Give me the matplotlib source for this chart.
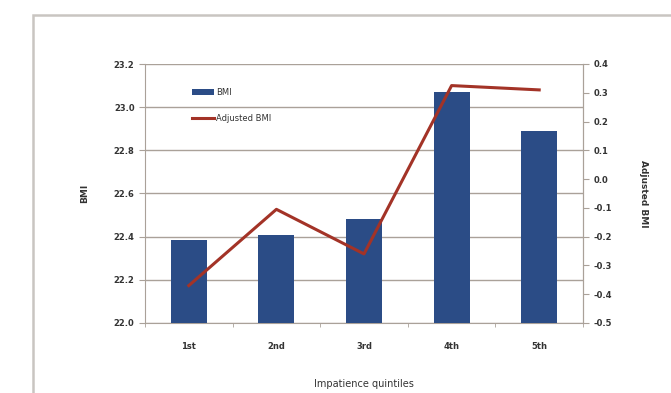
import matplotlib
matplotlib.use('Agg')
from matplotlib import pyplot as plt
from matplotlib.patches import Rectangle
import numpy as np

quintiles = ['1st', '2nd', '3rd', '4th', '5th']
bmi = [22.385, 22.41, 22.48, 23.07, 22.89]
adj_bmi = [-0.37, -0.105, -0.26, 0.325, 0.31]
left_ticks = [22.0, 22.2, 22.4, 22.6, 22.8, 23.0, 23.2]
right_ticks = [-0.5, -0.4, -0.3, -0.2, -0.1, 0.0, 0.1, 0.2, 0.3, 0.4]

bar_col = '#2b4c86'
line_col = '#a33327'
grid_col = '#aaa199'
txt_col = '#333333'

fig = plt.figure(figsize=(6.71, 3.93), dpi=100)
fig.patches.append(Rectangle((33/671, -0.1), 1.2, 1.1 - 15/393, transform=fig.transFigure,
                             fill=False, edgecolor='#c9c5c1', linewidth=1.8))

ax = fig.add_axes([145/671, 1 - 323/393, (583-145)/671, (323-64)/393])
x = np.arange(len(quintiles))
ax.bar(x, bmi, width=0.41, color=bar_col, label='BMI', zorder=3)
ax.set_ylim(22.0, 23.2)
ax.set_xlim(-0.5, 4.5)
ax.set_yticks(left_ticks)
ax.set_yticklabels(['%.1f' % t for t in left_ticks])
ax.set_xticks(x)
ax.set_xticklabels(quintiles)
ax.set_xticks(np.arange(-0.5, 5.0, 1.0), minor=True)
ax.grid(axis='y', color=grid_col, linewidth=1.0, zorder=0)
ax.spines['top'].set_visible(False)
for s in ['left', 'bottom', 'right']:
    ax.spines[s].set_color(grid_col)
ax.tick_params(axis='y', colors=grid_col, labelcolor=txt_col, labelsize=6, length=4)
ax.tick_params(axis='x', which='major', length=0, labelcolor=txt_col, labelsize=6, pad=14)
ax.tick_params(axis='x', which='minor', length=3, color=grid_col)
for t in ax.get_yticklabels() + ax.get_xticklabels():
    t.set_fontweight('bold')
ax.set_ylabel('BMI', fontsize=6.5, color=txt_col, fontweight='bold', labelpad=18)
ax.set_xlabel('Impatience quintiles', fontsize=7, color=txt_col, labelpad=20)

ax2 = ax.twinx()
ax2.plot(x, adj_bmi, color=line_col, linewidth=2.2, label='Adjusted BMI', zorder=4)
ax2.set_ylim(-0.5, 0.4)
ax2.set_yticks(right_ticks)
ax2.set_yticklabels(['%.1f' % t for t in right_ticks])
for s in ['top', 'left', 'bottom']:
    ax2.spines[s].set_visible(False)
ax2.spines['right'].set_color(grid_col)
ax2.tick_params(axis='y', colors=grid_col, labelcolor=txt_col, labelsize=6, length=4)
for t in ax2.get_yticklabels():
    t.set_fontweight('bold')
ax2.set_ylabel('Adjusted BMI', fontsize=6.5, color=txt_col, fontweight='bold', rotation=270, labelpad=26)

h1, l1 = ax.get_legend_handles_labels()
h2, l2 = ax2.get_legend_handles_labels()
leg = ax2.legend(h1 + h2, l1 + l2, loc='upper left', bbox_to_anchor=(0.1, 0.92), frameon=False,
                 fontsize=6, handlelength=2.6, handletextpad=0.3, labelspacing=2.0,
                 labelcolor=txt_col, borderaxespad=0)

fig.savefig('out.png', dpi=100)
